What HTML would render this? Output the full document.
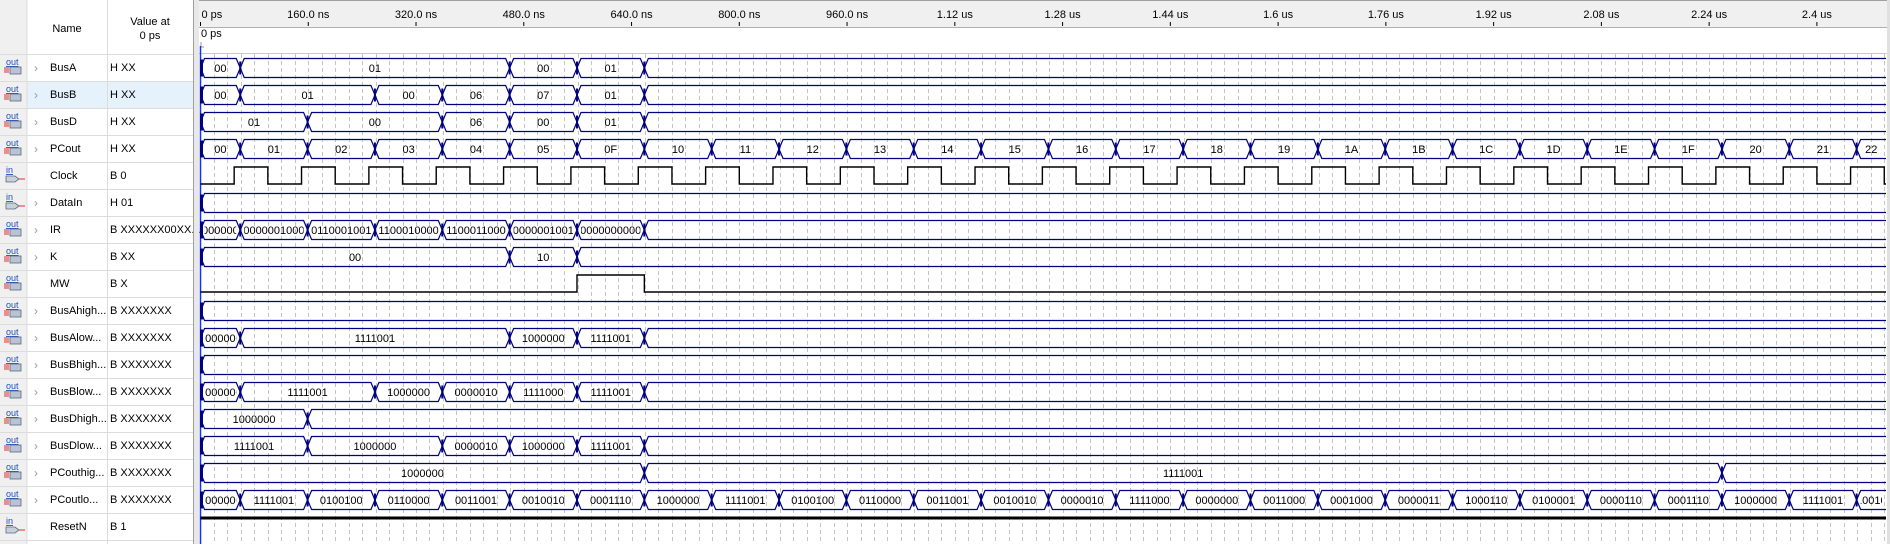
<!DOCTYPE html>
<html><head><meta charset="utf-8">
<style>
body{margin:0;width:1890px;height:544px;overflow:hidden;background:#fff;font-family:"Liberation Sans",sans-serif;}
svg text{font-family:"Liberation Sans",sans-serif;}
</style></head>
<body>
<svg id="wave" width="1890" height="544" xmlns="http://www.w3.org/2000/svg">
<g id="panel"></g>
<g id="ruler"></g>
<g id="grid"></g>
<g id="sigs"></g>
</svg>
<script>
const rulerTicks = [0,160,320,480,640,800,960,1120,1280,1440,1600,1760,1920,2080,2240,2400];
const rulerLabels = ["0 ps","160.0 ns","320.0 ns","480.0 ns","640.0 ns","800.0 ns","960.0 ns","1.12 us","1.28 us","1.44 us","1.6 us","1.76 us","1.92 us","2.08 us","2.24 us","2.4 us"];
const signalNames = ["BusA","BusB","BusD","PCout","Clock","DataIn","IR","K","MW","BusAhigh...","BusAlow...","BusBhigh...","BusBlow...","BusDhigh...","BusDlow...","PCouthig...","PCoutlo...","ResetN"];
const signalValues = ["H XX","H XX","H XX","H XX","B 0","H 01","B XXXXXX00XX...","B XX","B X","B XXXXXXX","B XXXXXXX","B XXXXXXX","B XXXXXXX","B XXXXXXX","B XXXXXXX","B XXXXXXX","B XXXXXXX","B 1"];
const signalDirs = ["out","out","out","out","in","in","out","out","out","out","out","out","out","out","out","out","out","in"];
const busATimes=[0,59,459,559,659]; const busAVals=["00","01","00","01",""];
const busBTimes=[0,59,259,359,459,559,659]; const busBVals=["00","01","00","06","07","01",""];
const busDTimes=[0,159,359,459,559,659]; const busDVals=["01","00","06","00","01",""];
const pcTimes=[0,59,159,259,359,459,559,659,759,859,959,1059,1159,1259,1359,1459,1559,1659,1759,1859,1959,2059,2159,2259,2359,2459];
const pcVals=["00","01","02","03","04","05","0F","10","11","12","13","14","15","16","17","18","19","1A","1B","1C","1D","1E","1F","20","21","22"];
const clockTimes=[0,50,100,150,200,250,300,350,400,450,500,550,600,650,700,750,800,850,900,950,1000,1050,1100,1150,1200,1250,1300,1350,1400,1450,1500,1550,1600,1650,1700,1750,1800,1850,1900,1950,2000,2050,2100,2150,2200,2250,2300,2350,2400,2450,2500];
const clockVals=[0,1,0,1,0,1,0,1,0,1,0,1,0,1,0,1,0,1,0,1,0,1,0,1,0,1,0,1,0,1,0,1,0,1,0,1,0,1,0,1,0,1,0,1,0,1,0,1,0,1,0];
const dataInTimes=[0]; const dataInVals=[""];
const irTimes=[0,59,159,259,359,459,559,659]; const irVals=["0000000000","0000001000","0110001001","1100010000","1100011000","0000001001","0000000000",""];
const kTimes=[0,459,559]; const kVals=["00","10",""];
const mwTimes=[0,559,659]; const mwVals=[0,1,0];
const busAhighTimes=[0]; const busAhighVals=[""];
const busAlowTimes=[0,59,459,559,659]; const busAlowVals=["1000000","1111001","1000000","1111001",""];
const busBhighTimes=[0]; const busBhighVals=[""];
const busBlowTimes=[0,59,259,359,459,559,659]; const busBlowVals=["1000000","1111001","1000000","0000010","1111000","1111001",""];
const busDhighTimes=[0,159]; const busDhighVals=["1000000",""];
const busDlowTimes=[0,159,359,459,559,659]; const busDlowVals=["1111001","1000000","0000010","1000000","1111001",""];
const pcHighTimes=[0,659,2259]; const pcHighVals=["1000000","1111001",""];
const pcLowVals=["1000000","1111001","0100100","0110000","0011001","0010010","0001110","1000000","1111001","0100100","0110000","0011001","0010010","0000010","1111000","0000000","0011000","0001000","0000011","1000110","0100001","0000110","0001110","1000000","1111001","0100100"];
const resetTimes=[0]; const resetVals=[1];

const NS="http://www.w3.org/2000/svg";
const X0=200.5, PX=0.6735, XEND=1886, ROW0=54, RH=27;
const xs=t=>X0+t*PX;
function el(tag,attrs,parent){const e=document.createElementNS(NS,tag);for(const k in attrs)e.setAttribute(k,attrs[k]);parent.appendChild(e);return e;}
const panel=document.getElementById('panel'),ruler=document.getElementById('ruler'),grid=document.getElementById('grid'),sigs=document.getElementById('sigs');

// panel
el('rect',{x:0,y:0,width:193,height:544,fill:'#fff'},panel);
el('rect',{x:0,y:0,width:27,height:544,fill:'#f0f0f0'},panel);
el('rect',{x:27,y:81,width:166,height:27,fill:'#e5f1fb'},panel);
el('line',{x1:27,y1:0,x2:27,y2:544,stroke:'#dcdcdc'},panel);
el('line',{x1:107.5,y1:0,x2:107.5,y2:544,stroke:'#dcdcdc'},panel);
let h=el('text',{x:67,y:32,'font-size':11,'text-anchor':'middle',fill:'#000'},panel);h.textContent='Name';


h=el('text',{x:150,y:25,'font-size':11,'text-anchor':'middle',fill:'#000'},panel);h.textContent='Value at';


h=el('text',{x:150,y:39,'font-size':11,'text-anchor':'middle',fill:'#000'},panel);h.textContent='0 ps';


for(let i=0;i<=signalNames.length;i++){el('line',{x1:0,y1:ROW0+i*RH+0.5,x2:193,y2:ROW0+i*RH+0.5,stroke:'#dcdcdc'},panel);}
signalNames.forEach((n,i)=>{
  const y=ROW0+i*RH;
  const g=el('g',{},panel);
  
  
  const ic=el('text',{x:6,y:y+11,'font-size':9,fill:'#1f4fc0','text-decoration':'underline'},g);ic.textContent=signalDirs[i];
  
  
  if(signalDirs[i]==='out'){el('rect',{x:10,y:y+13,width:11,height:7,fill:'#b8c4d4',stroke:'#5a6a80','stroke-width':0.8},g);for(let k=0;k<3;k++)el('line',{x1:4,y1:y+14+k*2,x2:9,y2:y+14+k*2,stroke:'#e03030'},g);}
  else{el('path',{d:`M6 ${y+14}h9l4 3l-4 3h-9z`,fill:'#c8d0dc',stroke:'#5a6a80','stroke-width':0.8},g);el('line',{x1:19,y1:y+17,x2:25,y2:y+17,stroke:'#e03030'},g);}
  const isBus=!['Clock','MW','ResetN'].includes(n);
  if(isBus){const c=el('text',{x:34,y:y+18,'font-size':12,fill:'#999'},g);c.textContent='›';
    
    }
  const t=el('text',{x:50,y:y+17,'font-size':11,fill:'#000'},g);t.textContent=n;
  const v=el('text',{x:110,y:y+17,'font-size':11,fill:'#000'},g);v.textContent=signalValues[i];
});
el('rect',{x:193,y:0,width:6,height:544,fill:'#e8e8e8'},panel);
el('line',{x1:193.5,y1:0,x2:193.5,y2:544,stroke:'#a0a0a0'},panel);

// ruler
el('rect',{x:199,y:0,width:1691,height:27,fill:'#f0f0f0'},ruler);
el('line',{x1:199,y1:0.5,x2:1890,y2:0.5,stroke:'#a0a0a0'},ruler);
el('line',{x1:199,y1:27.5,x2:1888,y2:27.5,stroke:'#b0b0b0'},ruler);
el('line',{x1:199,y1:53.5,x2:1888,y2:53.5,stroke:'#c8c8c8'},ruler);
el('rect',{x:1887,y:0,width:3,height:544,fill:'#e0e0e0'},ruler);
rulerTicks.forEach((t,i)=>{
  const x=xs(t);
  const tk=el('line',{x1:x,y1:22,x2:x,y2:26,stroke:'#000'},ruler);
  
  
  const lb=el('text',{x:i===0?x+1:x,y:18,'font-size':11,'text-anchor':i===0?'start':'middle',fill:'#000'},ruler);lb.textContent=rulerLabels[i];
  
  
});
const cl=el('text',{x:201,y:37,'font-size':11,fill:'#000'},ruler);cl.textContent='0 ps';


el('path',{d:'M201 42v5h3',fill:'none',stroke:'#999'},ruler);

// grid
for(let t=20;t<2510;t+=20){const x=Math.round(xs(t))+0.5;if(x>XEND)break;el('line',{x1:x,y1:54,x2:x,y2:544,stroke:'#c4c4c4','stroke-dasharray':'4,3'},grid);}
const cur=el('line',{x1:200.5,y1:46,x2:200.5,y2:544,stroke:'#1030ff','stroke-width':1.5},grid);



const TEND=(XEND-X0)/PX;
const C='#000080';
function drawBus(row,times,vals,name){
  const g=el('g',{},sigs);
  
  
  const top=ROW0+row*RH+4.5, bot=top+19, mid=(top+bot)/2, s=4;
  for(let i=0;i<times.length;i++){
    if(times[i]>=TEND)break;
    const x1=xs(times[i]); const last=(i===times.length-1)||times[i+1]>=TEND;
    const x2=last?XEND:xs(times[i+1]);
    let d=`M${x1} ${mid}L${x1+s} ${top}L${last?x2:x2-s} ${top}`+(last?`M${x2} ${bot}`:`L${x2} ${mid}L${x2-s} ${bot}`)+`L${x1+s} ${bot}Z`;
    if(last) d=`M${x2} ${top}L${x1+s} ${top}L${x1} ${mid}L${x1+s} ${bot}L${x2} ${bot}`;
    const p=el('path',{d:d,fill:'none',stroke:C,'stroke-width':1.2},g);
    
    
    if(i>0){el('line',{x1:x1,y1:top+3,x2:x1,y2:bot-3,stroke:C,'stroke-width':2},g);}
    if(vals[i]){
      const w=x2-x1-2*s, sv=el('svg',{x:x1+s,y:top,width:Math.max(w,1),height:19,overflow:'hidden'},g);
      const tx=el('text',{x:w/2,y:13.5,'font-size':11,'text-anchor':'middle',fill:'#000'},sv);tx.textContent=vals[i];
      
      
    }
  }
  el('rect',{x:200,y:top+1,width:3,height:17,fill:C},g);
}
function drawBit(row,times,vals,name){
  const g=el('g',{},sigs);
  
  
  const hi=ROW0+row*RH+5, lo=ROW0+row*RH+22;
  let d='';
  for(let i=0;i<times.length;i++){
    if(times[i]>=TEND)break;
    const x1=xs(times[i]); const x2=(i===times.length-1||times[i+1]>=TEND)?XEND:xs(times[i+1]);
    const y=vals[i]?hi:lo;
    d+=(i===0?`M${x1} ${y}`:`L${x1} ${y}`)+`L${x2} ${y}`;
  }
  const p=el('path',{d:d,fill:'none',stroke:'#000','stroke-width':1.4},g);
  
  
  return g;
}
drawBus(0,busATimes,busAVals,'busa');
drawBus(1,busBTimes,busBVals,'busb');
drawBus(2,busDTimes,busDVals,'busd');
drawBus(3,pcTimes,pcVals,'pcout');
drawBit(4,clockTimes,clockVals,'clock');
drawBus(5,dataInTimes,dataInVals,'datain');
drawBus(6,irTimes,irVals,'ir');
drawBus(7,kTimes,kVals,'k');
drawBit(8,mwTimes,mwVals,'mw');
drawBus(9,busAhighTimes,busAhighVals,'busahigh');
drawBus(10,busAlowTimes,busAlowVals,'busalow');
drawBus(11,busBhighTimes,busBhighVals,'busbhigh');
drawBus(12,busBlowTimes,busBlowVals,'busblow');
drawBus(13,busDhighTimes,busDhighVals,'busdhigh');
drawBus(14,busDlowTimes,busDlowVals,'busdlow');
drawBus(15,pcHighTimes,pcHighVals,'pcouthigh');
drawBus(16,pcTimes,pcLowVals,'pcoutlow');
const rg=drawBit(17,resetTimes,resetVals,'resetn');
rg.lastChild.setAttribute('stroke-width','3');
</script>
</body></html>
